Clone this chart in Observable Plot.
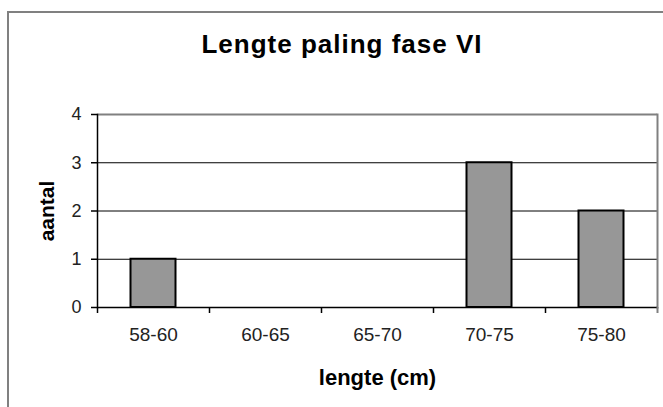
<!DOCTYPE html>
<html>
<head>
<meta charset="utf-8">
<script src="https://cdn.jsdelivr.net/npm/d3@7"></script>
<script src="https://cdn.jsdelivr.net/npm/@observablehq/plot@0.6"></script>
<style>
  html, body { margin: 0; padding: 0; background: #fff; overflow: hidden; }
  #wrap { position: relative; width: 663px; height: 407px; overflow: hidden; font-family: "Liberation Sans", Arial, sans-serif; }
  #frame { position: absolute; left: 7px; top: 11px; width: 700px; height: 450px; border: 2px solid #808080; box-sizing: border-box; }
  #title { position: absolute; left: 0; width: 684px; top: 29px; text-align: center; font: bold 26px "Liberation Sans", Arial, sans-serif; line-height: 30px; letter-spacing: 1px; color: #000; }
  #chart { position: absolute; left: 0; top: 0; }
</style>
</head>
<body>
<div id="wrap">
  <div id="frame"></div>
  <div id="title"></div>
  <div id="chart"></div>
</div>
<script>
const titleText = "Lengte paling fase VI";
const xLabel = "lengte (cm)";
const yLabel = "aantal";
const categories = ["58-60", "60-65", "65-70", "70-75", "75-80"];
const counts = [1, 0, 0, 3, 2];
const yTicks = [0, 1, 2, 3, 4];

const data = categories.map((c, i) => ({category: c, count: counts[i]}));
document.getElementById("title").textContent = titleText;

const bandHalf = 56;

const chart = Plot.plot({
  width: 663,
  height: 407,
  marginLeft: 97,
  marginRight: 6,
  marginTop: 114,
  marginBottom: 100,
  style: {background: "transparent", fontFamily: "'Liberation Sans', Arial, sans-serif", color: "#000"},
  x: {type: "band", domain: categories, paddingInner: 0, paddingOuter: 0, label: null},
  y: {domain: [0, 4], label: null},
  marks: [
    Plot.gridY(yTicks.filter(t => t > 0 && t < 4), {stroke: "#000", strokeOpacity: 1, strokeWidth: 1}),
    Plot.ruleY([4], {stroke: "#808080", strokeWidth: 2}),
    Plot.frame({anchor: "right", stroke: "#808080", strokeWidth: 2}),
    Plot.barY(data, {x: "category", y: "count", fill: "#979797", stroke: "#000", strokeWidth: 2, insetLeft: 33.5, insetRight: 33.5}),
    Plot.frame({anchor: "left", stroke: "#000", strokeWidth: 1.5}),
    Plot.ruleY([0], {stroke: "#000", strokeWidth: 1.5}),
    Plot.axisY({ticks: yTicks, tickSize: 6, tickPadding: 10, tickFormat: d3.format("d"), fontSize: 18, fill: "#222", label: null, stroke: "#000", strokeWidth: 1.5}),
    Plot.axisX({ticks: categories, tickSize: 6, tickFormat: null, dx: -bandHalf, label: null, stroke: "#000", strokeWidth: 1.5}),
    Plot.axisX({ticks: [categories[categories.length - 1]], tickSize: 6, tickFormat: null, dx: bandHalf, label: null, stroke: "#808080", strokeWidth: 2}),
    Plot.axisX({ticks: categories, tickSize: 0, tickPadding: 20, fontSize: 19, fill: "#222", label: null, letterSpacing: 0.5}),
    Plot.text([yLabel], {frameAnchor: "left", dx: -50, rotate: -90, fontSize: 21, fontWeight: "bold", textAnchor: "middle", lineAnchor: "middle"}),
    Plot.text([xLabel], {frameAnchor: "bottom", dy: 70, fontSize: 22, fontWeight: "bold", textAnchor: "middle", lineAnchor: "middle"})
  ]
});
document.getElementById("chart").appendChild(chart);
</script>
</body>
</html>
